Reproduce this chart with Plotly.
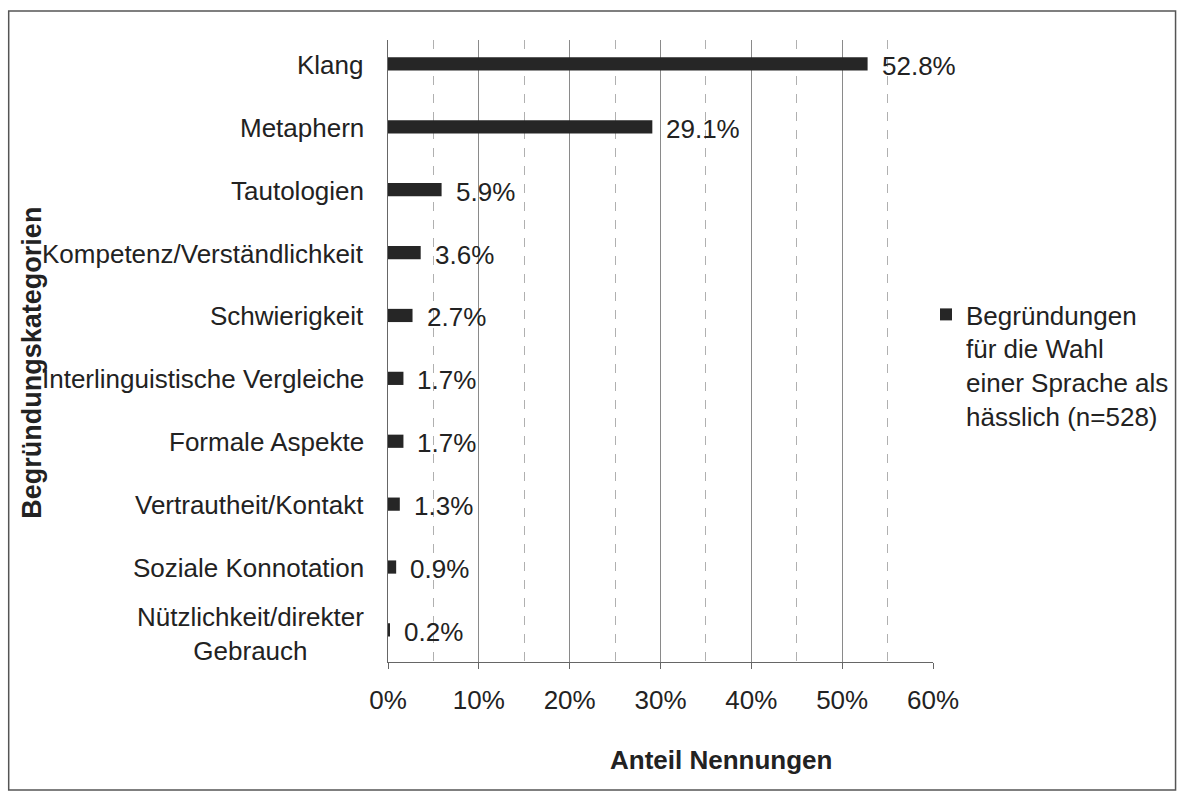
import plotly.graph_objects as go

categories = [
    "Klang",
    "Metaphern",
    "Tautologien",
    "Kompetenz/Verständlichkeit",
    "Schwierigkeit",
    "Interlinguistische Vergleiche",
    "Formale Aspekte",
    "Vertrautheit/Kontakt",
    "Soziale Konnotation",
    "Nützlichkeit/direkter<br>Gebrauch",
]
values = [0.528, 0.291, 0.059, 0.036, 0.027, 0.017, 0.017, 0.013, 0.009, 0.002]
value_labels = ["52.8%", "29.1%", "5.9%", "3.6%", "2.7%", "1.7%", "1.7%", "1.3%", "0.9%", "0.2%"]
x_ticks = [0, 0.1, 0.2, 0.3, 0.4, 0.5, 0.6]
x_tick_labels = ["0%", "10%", "20%", "30%", "40%", "50%", "60%"]
series_name = "Begründungen<br>für die Wahl<br>einer Sprache als<br>hässlich (n=528)"

W, H = 1185, 800
L, R, T, B = 388, 934, 40, 662

FONT = "Liberation Sans, Arial, sans-serif"
TXT = "#222222"
FS = 26

fig = go.Figure()
fig.add_trace(go.Bar(
    x=values,
    y=categories,
    orientation="h",
    width=0.21,
    marker=dict(color="#262626", line=dict(width=0)),
    name=series_name,
    showlegend=True,
))

annotations = []
# category labels
for c in categories:
    multi = "<br>" in c
    annotations.append(dict(
        x=0, xref="x", y=c, yref="y",
        text=c, showarrow=False, xanchor="right", yanchor="middle",
        align="center", xshift=-22, yshift=(-4 if multi else -1),
        font=dict(family=FONT, size=FS, color=TXT),
    ))
# value labels
for c, v, t in zip(categories, values, value_labels):
    annotations.append(dict(
        x=v, xref="x", y=c, yref="y",
        text=t, showarrow=False, xanchor="left", yanchor="middle",
        xshift=12, yshift=-2,
        font=dict(family=FONT, size=FS, color=TXT),
    ))

pw = R - L
ph = B - T
def px(xp):
    return (xp - L) / pw
def py(yp):
    return (B - yp) / ph

annotations.append(dict(
    x=px(722), y=py(760), xref="paper", yref="paper",
    text="<b>Anteil Nennungen</b>", showarrow=False,
    xanchor="center", yanchor="middle",
    font=dict(family=FONT, size=FS, color=TXT),
))
annotations.append(dict(
    x=px(31), y=py(363), xref="paper", yref="paper",
    text="<b>Begründungskategorien</b>", showarrow=False, textangle=-90,
    xanchor="center", yanchor="middle",
    font=dict(family=FONT, size=27, color=TXT),
))

shapes = [dict(
    type="rect", xref="paper", yref="paper",
    x0=px(8), x1=px(1177), y0=py(790), y1=py(11),
    line=dict(color="#555555", width=1.5),
    fillcolor="rgba(0,0,0,0)", layer="below",
)]

fig.update_layout(
    width=W, height=H,
    margin=dict(l=L, r=W - R, t=T, b=H - B, pad=0),
    paper_bgcolor="white", plot_bgcolor="white",
    font=dict(family=FONT, size=FS, color=TXT),
    annotations=annotations,
    shapes=shapes,
    legend=dict(
        x=px(926), y=py(291), xanchor="left", yanchor="top",
        valign="top", itemwidth=30,
        font=dict(family=FONT, size=FS, color=TXT),
        bgcolor="rgba(0,0,0,0)", tracegroupgap=0,
    ),
    showlegend=True,
)

fig.update_xaxes(
    range=[0, 0.6],
    tickvals=x_ticks, ticktext=x_tick_labels,
    showgrid=True, gridcolor="#8a8a8a", gridwidth=1,
    minor=dict(dtick=0.05, tick0=0, showgrid=True, gridcolor="#b0b0b0",
               griddash="dash", gridwidth=1, ticks=""),
    showline=True, linecolor="#666666", linewidth=1,
    ticks="outside", ticklen=6, tickcolor="#666666",
    ticklabelstandoff=9,
    tickfont=dict(family=FONT, size=FS, color=TXT),
    zeroline=False, fixedrange=True,
)
n = len(categories)
fig.update_yaxes(
    type="category",
    categoryorder="array", categoryarray=categories,
    range=[n - 1 + 0.51, -0.38],
    showticklabels=False,
    showgrid=False,
    showline=True, linecolor="#666666", linewidth=1,
    ticks="", zeroline=False, fixedrange=True,
)

fig.write_html("out.html", config={"displayModeBar": False},
               post_script="document.body.style.margin='0';")
